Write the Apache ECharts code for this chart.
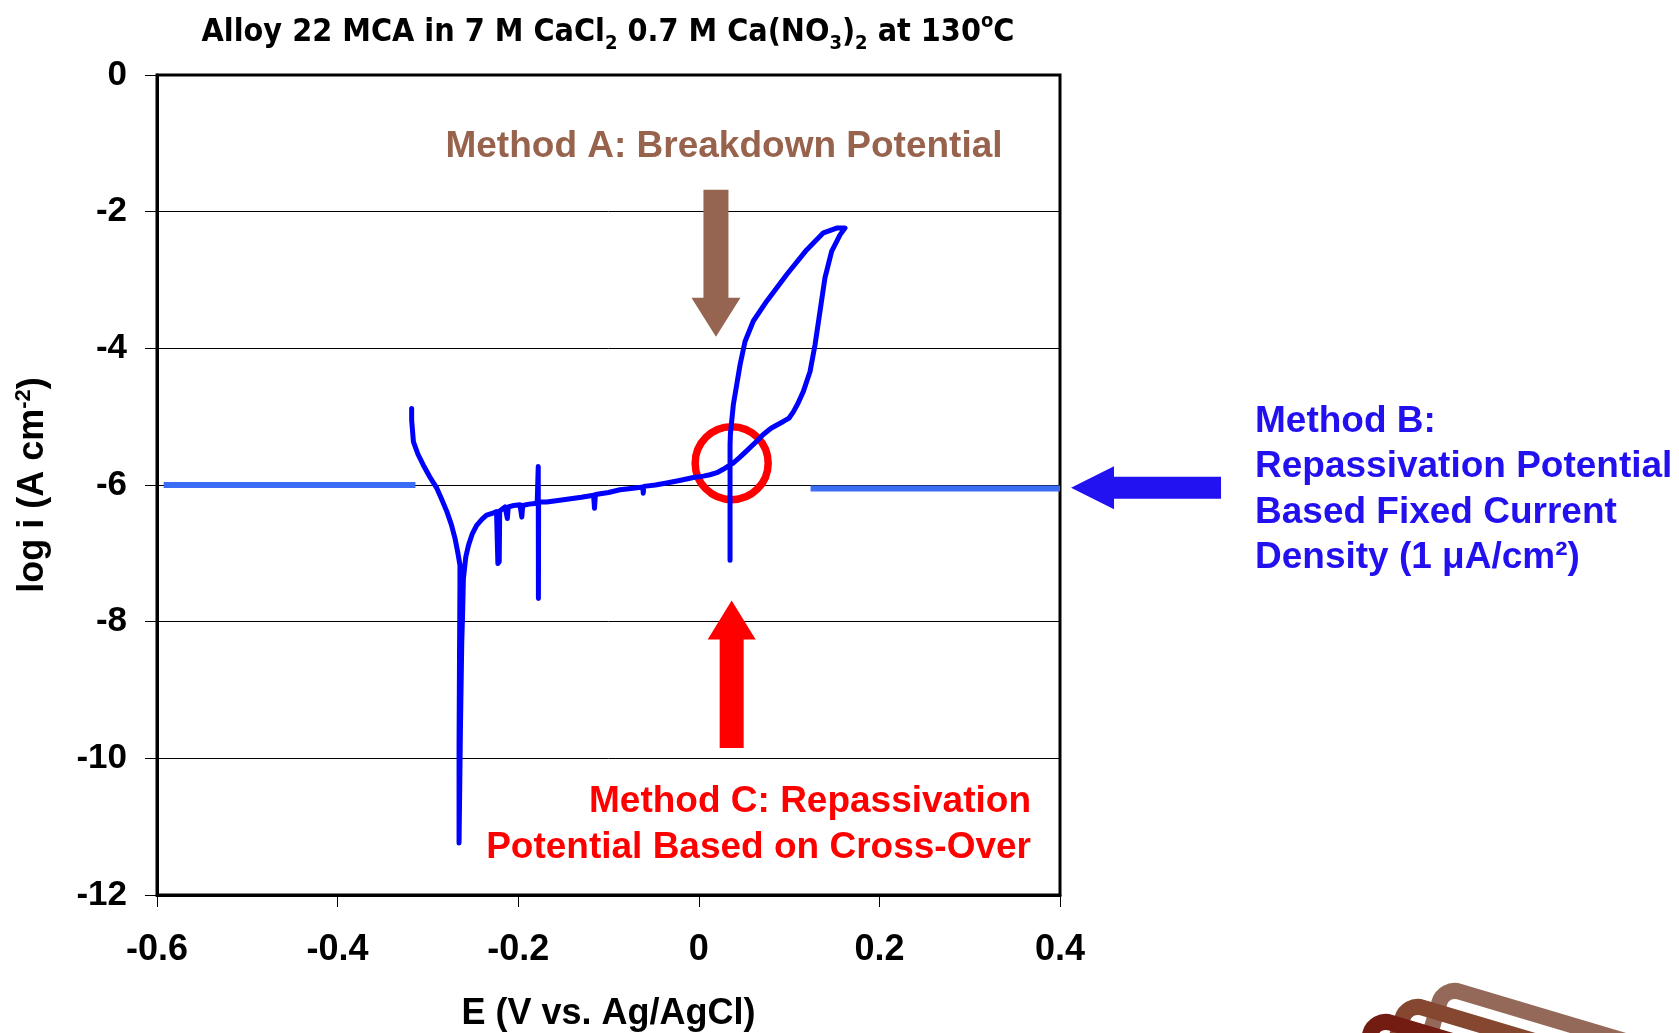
<!DOCTYPE html>
<html>
<head>
<meta charset="utf-8">
<script src="https://cdn.jsdelivr.net/npm/echarts@6/dist/echarts.min.js"></script>
<style>
  html, body { margin: 0; padding: 0; background: #ffffff; }
  #chart { width: 1679px; height: 1033px; }
</style>
</head>
<body>
<div id="chart"></div>
<script>
// Cyclic potentiodynamic polarization of Alloy 22 (MCA) in 7 M CaCl2 + 0.7 M Ca(NO3)2, 130 C
const FONT = '"Liberation Sans", Arial, Helvetica, sans-serif';
const NARROW = '"Liberation Sans Narrow", "Arial Narrow", "DejaVu Sans Condensed", sans-serif';

// axis ticks
const xTicks = [-0.6, -0.4, -0.2, 0, 0.2, 0.4];
const yTicks = [0, -2, -4, -6, -8, -10, -12];

// scan: potential E (V vs. Ag/AgCl), in scan order (forward then reverse)
const scanE = [
  -0.318, -0.318, -0.316, -0.311, -0.305, -0.298, -0.290, -0.285, -0.279, -0.274, -0.270, -0.267, -0.2645, -0.2645, -0.265, -0.2655, -0.2655,
  -0.264, -0.2625, -0.2615, -0.2607, -0.258, -0.255, -0.251, -0.246, -0.240, -0.235, -0.228, -0.224,
  -0.223, -0.2225, -0.221, -0.2205,
  -0.2146, -0.213, -0.212, -0.211,
  -0.205, -0.198, -0.1965, -0.196, -0.195,
  -0.188, -0.1814, -0.179, -0.1778, -0.1776, -0.1774,
  -0.1685, -0.158, -0.146, -0.130,
  -0.1165, -0.1155, -0.1145,
  -0.100, -0.0873, -0.075,
  -0.062, -0.0615, -0.061,
  -0.048, -0.0356, -0.020, -0.006, 0.005, 0.0124, 0.020, 0.027, 0.033, 0.038, 0.045, 0.053, 0.0641, 0.0714,
  0.080, 0.0936, 0.100, 0.1047, 0.110, 0.1158, 0.1232, 0.1287, 0.1342, 0.1397, 0.1471, 0.1564, 0.1619,
  0.1527, 0.138, 0.1194, 0.0974, 0.0752, 0.0604, 0.0512, 0.0457, 0.0420, 0.0383, 0.0364, 0.0350, 0.0346, 0.0346, 0.0346, 0.0346
];
// scan: log of current density (A cm^-2), same order as scanE
const scanLogI = [
  -4.88, -5.05, -5.37, -5.55, -5.71, -5.88, -6.05, -6.20, -6.39, -6.58, -6.78, -6.98, -7.17, -7.46, -8.5, -9.8, -11.24,
  -9.6, -8.3, -7.85, -7.37, -7.05, -6.88, -6.72, -6.59, -6.50, -6.44, -6.41, -6.39,
  -6.40, -7.15, -7.12, -6.38,
  -6.32, -6.33, -6.49, -6.32,
  -6.30, -6.29, -6.30, -6.47, -6.30,
  -6.28, -6.27, -6.27, -5.73, -7.66, -6.25,
  -6.25, -6.23, -6.21, -6.18,
  -6.15, -6.34, -6.14,
  -6.11, -6.07, -6.05,
  -6.03, -6.12, -6.02,
  -6.00, -5.97, -5.93, -5.89, -5.87, -5.85, -5.82, -5.77, -5.72, -5.68, -5.60, -5.50, -5.36, -5.26,
  -5.17, -5.07, -5.02, -4.93, -4.80, -4.63, -4.34, -3.95, -3.46, -2.97, -2.58, -2.34, -2.24,
  -2.24, -2.31, -2.56, -2.92, -3.31, -3.60, -3.90, -4.24, -4.53, -4.82, -5.07, -5.25, -5.42, -5.75, -6.50, -7.10
];

// fixed current density reference (1 uA/cm2 -> log i = -6)
const refLeftE = [-0.5926, -0.3138];
const refLeftLogI = [-6.0, -6.0];
const refRightE = [0.1238, 0.4];
const refRightLogI = [-6.05, -6.05];

// annotation anchors in data space
const arrowA = { tail: [0.0190, -1.68], tip: [0.0190, -3.83] };
const arrowC = { tail: [0.0364, -9.85], tip: [0.0364, -7.69] };
const arrowB = { tail: [0.5783, -6.04], tip: [0.4122, -6.04] };
const crossOver = [0.0364, -5.68];

const pairs = (xs, ys) => xs.map((x, i) => [x, ys[i]]);

const chart = echarts.init(document.getElementById('chart'), null, { renderer: 'canvas' });

chart.setOption({
  animation: false,
  backgroundColor: '#ffffff',
  title: {
    text: 'Alloy 22 MCA in 7 M CaCl{sub|2} 0.7 M Ca(NO{sub|3}){sub|2} at 130{sup|o}C',
    left: 603,
    top: 7,
    textAlign: 'center',
    textStyle: {
      fontFamily: NARROW, fontWeight: 'bold', fontSize: 32, color: '#000', lineHeight: 42,
      rich: {
        sub: { fontFamily: NARROW, fontWeight: 'bold', fontSize: 20, lineHeight: 16, verticalAlign: 'bottom', color: '#000' },
        sup: { fontFamily: NARROW, fontWeight: 'bold', fontSize: 20, lineHeight: 16, verticalAlign: 'top', color: '#000' }
      }
    }
  },
  grid: {
    left: 157, top: 75, width: 903, height: 820,
    show: true, borderColor: '#000', borderWidth: 3,
    containLabel: false, outerBoundsMode: 'none'
  },
  xAxis: {
    type: 'value', min: -0.6, max: 0.4, interval: 0.2,
    name: 'E (V vs. Ag/AgCl)', nameLocation: 'middle', nameGap: 101,
    nameTextStyle: { fontFamily: FONT, fontWeight: 'bold', fontSize: 36, color: '#000' },
    axisLine: { show: true, onZero: false, lineStyle: { color: '#000', width: 3 } },
    axisTick: { show: true, inside: false, length: 12, lineStyle: { color: '#000', width: 1 } },
    axisLabel: {
      margin: 37, fontFamily: FONT, fontWeight: 'bold', fontSize: 36, color: '#000',
      formatter: v => (Math.abs(v) < 1e-9 ? '0' : (+v.toFixed(1)).toString())
    },
    splitLine: { show: false }
  },
  yAxis: {
    type: 'value', min: -12, max: 0, interval: 2,
    name: 'log i (A cm{sup|-2})', nameLocation: 'middle', nameGap: 104, nameRotate: 90,
    nameTextStyle: {
      fontFamily: FONT, fontWeight: 'bold', fontSize: 36, color: '#000', lineHeight: 40,
      rich: { sup: { fontFamily: FONT, fontWeight: 'bold', fontSize: 22, lineHeight: 16, verticalAlign: 'top', color: '#000' } }
    },
    axisLine: { show: true, onZero: false, lineStyle: { color: '#000', width: 3 } },
    axisTick: { show: true, inside: false, length: 12, lineStyle: { color: '#000', width: 1 } },
    axisLabel: { margin: 30, fontFamily: FONT, fontWeight: 'bold', fontSize: 35, color: '#000' },
    splitLine: { show: true, lineStyle: { color: '#000', width: 1 } }
  },
  series: [
    {
      name: 'reference left', type: 'line', data: pairs(refLeftE, refLeftLogI),
      showSymbol: false, symbol: 'none', lineStyle: { color: '#3a6cf4', width: 6 }, z: 2, silent: true
    },
    {
      name: 'reference right', type: 'line', data: pairs(refRightE, refRightLogI),
      showSymbol: false, symbol: 'none', lineStyle: { color: '#3a6cf4', width: 6 }, z: 2, silent: true
    },
    {
      name: 'scan', type: 'line', data: pairs(scanE, scanLogI),
      showSymbol: false, symbol: 'none', smooth: false,
      lineStyle: { color: '#0000ff', width: 5, join: 'round', cap: 'round' }, z: 4, silent: true
    }
  ]
});

// block arrow polygon from tail to tip (pixel space)
function arrowPolygon(tail, tip, headLen, headHalf, shaftHalf) {
  const dx = tip[0] - tail[0], dy = tip[1] - tail[1];
  const len = Math.hypot(dx, dy);
  const ux = dx / len, uy = dy / len;
  const nx = -uy, ny = ux;
  const bx = tip[0] - ux * headLen, by = tip[1] - uy * headLen;
  return [
    [tail[0] + nx * shaftHalf, tail[1] + ny * shaftHalf],
    [bx + nx * shaftHalf, by + ny * shaftHalf],
    [bx + nx * headHalf, by + ny * headHalf],
    [tip[0], tip[1]],
    [bx - nx * headHalf, by - ny * headHalf],
    [bx - nx * shaftHalf, by - ny * shaftHalf],
    [tail[0] - nx * shaftHalf, tail[1] - ny * shaftHalf]
  ];
}

const px = p => chart.convertToPixel({ gridIndex: 0 }, p);
const ring = px(crossOver);

const noteStyle = { fontFamily: FONT, fontWeight: 'bold', fontSize: 37 };

chart.setOption({
  graphic: [
    // decorative brand mark, lower right
    { type: 'rect', x: 1444, y: 987, rotation: -0.29, z: 0,
      shape: { x: 0, y: 0, width: 520, height: 300, r: 16 },
      style: { fill: 'none', stroke: '#946959', lineWidth: 16 } },
    { type: 'rect', x: 1407, y: 1003, rotation: -0.29, z: 0,
      shape: { x: 0, y: 0, width: 520, height: 300, r: 16 },
      style: { fill: 'none', stroke: '#85472f', lineWidth: 16 } },
    { type: 'rect', x: 1375, y: 1018, rotation: -0.29, z: 0,
      shape: { x: 0, y: 0, width: 520, height: 300, r: 16 },
      style: { fill: 'none', stroke: '#731c12', lineWidth: 16 } },

    // Method A
    { type: 'polygon', z: 5, shape: { points: arrowPolygon(px(arrowA.tail), px(arrowA.tip), 39, 24.5, 12.5) },
      style: { fill: '#956551' } },
    { type: 'text', x: 724, y: 147, z: 5,
      style: Object.assign({ text: 'Method A: Breakdown Potential', fill: '#97634d', align: 'center', verticalAlign: 'middle' }, noteStyle) },

    // Method C
    { type: 'circle', z: 1, shape: { cx: ring[0], cy: ring[1], r: 36.5 },
      style: { fill: 'none', stroke: '#ff0000', lineWidth: 7.5 } },
    { type: 'polygon', z: 5, shape: { points: arrowPolygon(px(arrowC.tail), px(arrowC.tip), 39, 24, 12) },
      style: { fill: '#ff0000' } },
    { type: 'text', x: 1031, y: 825, z: 5,
      style: Object.assign({ text: 'Method C: Repassivation\nPotential Based on Cross-Over', fill: '#ff0000',
        align: 'right', verticalAlign: 'middle', lineHeight: 46 }, noteStyle) },

    // Method B
    { type: 'polygon', z: 5, shape: { points: arrowPolygon(px(arrowB.tail), px(arrowB.tip), 43, 21.5, 11) },
      style: { fill: '#2212f2' } },
    { type: 'text', x: 1255, y: 490, z: 5,
      style: Object.assign({ text: 'Method B:\nRepassivation Potential\nBased Fixed Current\nDensity (1 \u03bcA/cm\u00b2)', fill: '#2211ee',
        align: 'left', verticalAlign: 'middle', lineHeight: 45.5 }, noteStyle) }
  ]
});
</script>
</body>
</html>
